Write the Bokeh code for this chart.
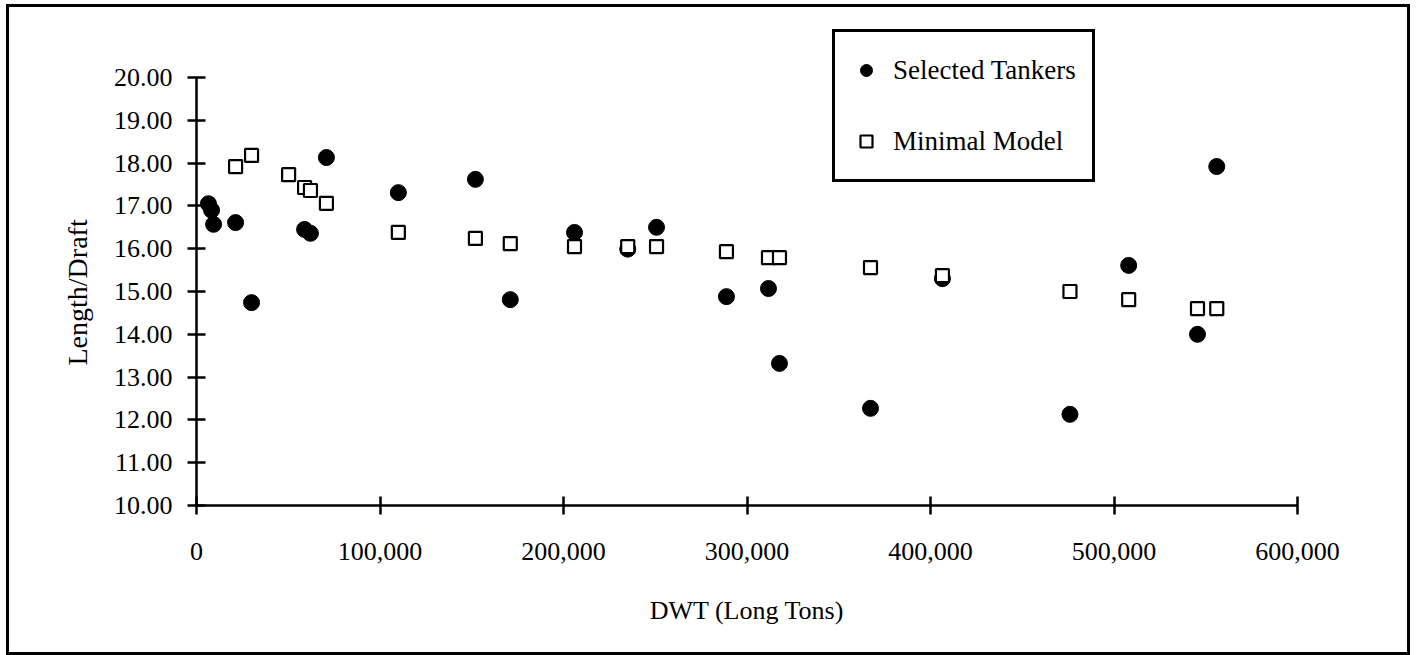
from bokeh.plotting import figure
from bokeh.layouts import column
from bokeh.models import (Range1d, FixedTicker, NumeralTickFormatter, Legend, LegendItem,
                          ColumnDataSource, Title)
from bokeh.embed import file_html
from bokeh.resources import INLINE

# --- data ---
tanker_dwt = [6500, 8200, 9300, 21300, 30000, 58900, 62100, 70800, 110000, 152000, 171000,
              206000, 235000, 250700, 288800, 311700, 317700, 367300, 406500, 476000,
              508000, 545500, 556000]
tanker_ld = [17.05, 16.90, 16.57, 16.61, 14.74, 16.45, 16.36, 18.13, 17.31, 17.62, 14.81,
             16.38, 15.99, 16.50, 14.88, 15.07, 13.32, 12.27, 15.30, 12.13,
             15.61, 14.00, 17.92]

model_dwt = [21300, 30000, 50200, 58900, 62100, 70800, 110000, 152000, 171000, 206000,
             235000, 250700, 288800, 311700, 317700, 367300, 406500, 476000, 508000,
             545500, 556000]
model_ld = [17.92, 18.18, 17.73, 17.43, 17.36, 17.06, 16.38, 16.24, 16.12, 16.05,
            16.05, 16.05, 15.93, 15.79, 15.79, 15.56, 15.37, 15.00, 14.81,
            14.60, 14.60]

x_ticks = [0, 100000, 200000, 300000, 400000, 500000, 600000]
y_ticks = [10, 11, 12, 13, 14, 15, 16, 17, 18, 19, 20]
y_axis_bounds = (10, 20)
y_view_top = 21.215  # headroom above the axis so the legend box is not clipped

FONT = "Liberation Serif"
W, H = 1398, 645

p = figure(width=W, height=H, output_backend="svg", toolbar_location=None,
           x_range=Range1d(0, 600000), y_range=Range1d(y_axis_bounds[0], y_view_top),
           min_border_left=187, min_border_top=18, min_border_right=110,
           min_border_bottom=147)
p.outline_line_color = None
p.xgrid.visible = False
p.ygrid.visible = False

for ax in (p.xaxis[0], p.yaxis[0]):
    ax.axis_line_width = 2.5
    ax.axis_line_color = "black"
    ax.major_tick_line_width = 2.5
    ax.major_tick_line_color = "black"
    ax.major_tick_in = 9
    ax.major_tick_out = 9
    ax.minor_tick_line_color = None
    ax.major_label_text_font = FONT
    ax.major_label_text_font_size = "26px"
    ax.major_label_text_color = "black"
    ax.axis_label_text_font = FONT
    ax.axis_label_text_font_size = "26px"
    ax.axis_label_text_font_style = "normal"
    ax.axis_label_text_color = "black"

p.yaxis.bounds = y_axis_bounds
p.xaxis.ticker = FixedTicker(ticks=x_ticks)
p.yaxis.ticker = FixedTicker(ticks=y_ticks)
p.xaxis.formatter = NumeralTickFormatter(format="0,0")
p.yaxis.formatter = NumeralTickFormatter(format="0.00")
p.xaxis.axis_label = "DWT (Long Tons)"
p.xaxis.major_label_standoff = 28
p.xaxis.axis_label_standoff = 33
p.yaxis.major_label_standoff = 15

# y-axis title, placed along the 10..20 axis span rather than the whole frame
ytitle = Title(text="Length/Draft", align="left", offset=140, standoff=36,
               text_font=FONT, text_font_size="28px", text_font_style="normal",
               text_color="black")
p.add_layout(ytitle, "left")

src_t = ColumnDataSource(dict(x=tanker_dwt, y=tanker_ld))
src_m = ColumnDataSource(dict(x=model_dwt, y=model_ld))

r_t = p.scatter("x", "y", source=src_t, marker="circle", size=16,
                fill_color="black", line_color="black", line_width=1)
r_m = p.scatter("x", "y", source=src_m, marker="square", size=13,
                fill_color="white", line_color="black", line_width=2.2)

legend = Legend(items=[LegendItem(label="Selected Tankers", renderers=[r_t]),
                       LegendItem(label="Minimal Model", renderers=[r_m])],
                location=(636, 323))
legend.label_text_font = FONT
legend.label_text_font_size = "27px"
legend.label_text_color = "black"
legend.border_line_color = "black"
legend.border_line_alpha = 1
legend.border_line_width = 3
legend.background_fill_alpha = 1
legend.padding = 16
legend.margin = 0
legend.spacing = 27
legend.glyph_width = 30
legend.glyph_height = 44
legend.label_standoff = 12
p.add_layout(legend, "center")

page = column(p, styles={"border": "3px solid black", "margin-left": "6px",
                         "margin-top": "4px"})

open("out.html", "w").write(file_html(page, INLINE))
